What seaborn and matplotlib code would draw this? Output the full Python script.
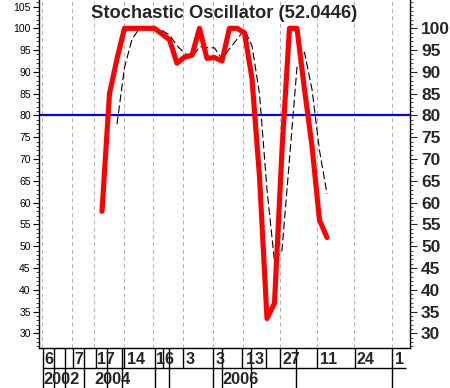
import matplotlib
matplotlib.use('Agg')
import matplotlib.pyplot as plt
import seaborn as sns
import pandas as pd
from matplotlib.ticker import MultipleLocator

# weekly %K (red) and %D (dashed black) values
week = list(range(31))
k_line = [58, 85, 93, 100, 100, 100, 100, 100, 98.7, 97.4, 92, 93.4, 93.8, 100, 93.1, 93.3,
          92.5, 100, 100, 99, 88.5, 66, 33.4, 36.9, 72, 100, 100, 86, 73, 56, 52]
d_week = list(range(2, 31))
d_line = [78, 91, 97.5, 100, 100, 100, 99.5, 98.5, 96, 94.3, 93.3, 95.8, 95.6, 95.5, 93,
          95.3, 97.5, 99.7, 96, 85, 63, 46.5, 49, 70, 91, 94.5, 86, 72, 62]
last_value = 52.0446
level = 80

# x axis: date gridlines and labels (in week units)
grid_pos = [-7.96, -3.96, -1.03, 2.97, 6.84, 10.84, 14.84, 18.84, 23.73, 28.71, 33.64, 38.71]
day_labels = ['6', '7', '17', '14', '16', '3', '3', '13', '27', '11', '24', '1']
year_labels = ['2002', '2004', '2006']
year_pos = [-7.8, -0.95, 16.1]

sns.set_style('white')
plt.rcParams['font.family'] = ['Liberation Sans', 'DejaVu Sans']

fig = plt.figure(figsize=(4.5, 3.88), dpi=100)
ax = fig.add_axes([39 / 450, 40 / 388, 371 / 450, 348 / 388])

xmin, xmax = -8.4, 41.07
ymin, ymax = 26.63, 106.5

for g in grid_pos:
    ax.axvline(g, color='#b4b4b4', lw=0.75, linestyle=(0, (4, 3)), zorder=0)
ax.axhline(level, color='#0000ff', lw=1.6, zorder=1)

df_k = pd.DataFrame({'week': week, 'k': k_line})
df_d = pd.DataFrame({'week': d_week, 'd': d_line})
sns.lineplot(data=df_d, x='week', y='d', color='black', lw=0.8,
             linestyle=(0, (7, 3)), ax=ax, zorder=2)
sns.lineplot(data=df_k, x='week', y='k', color='#ff0000', lw=3.7,
             ax=ax, zorder=3)

ax.set_xlim(xmin, xmax)
ax.set_ylim(ymin, ymax)
ax.set_xlabel('')
ax.set_ylabel('')
ax.set_xticks([])
ax.spines['top'].set_visible(False)
for s in ['left', 'right', 'bottom']:
    ax.spines[s].set_color('black')
    ax.spines[s].set_linewidth(1)

ax.set_yticks(range(30, 106, 5))
ax.yaxis.set_minor_locator(MultipleLocator(1))
ax.tick_params(axis='y', which='major', left=True, length=4, width=0.8,
               labelsize=7.5, pad=2, colors='black')
ax.tick_params(axis='y', which='minor', left=True, length=2, width=0.6)

axr = ax.twinx()
axr.set_ylim(ymin, ymax)
axr.set_yticks(range(30, 101, 5))
axr.yaxis.set_minor_locator(MultipleLocator(1))
axr.tick_params(axis='y', which='major', right=True, length=5, width=0.8,
                labelsize=12.5, pad=3)
axr.tick_params(axis='y', which='minor', right=True, length=2.5, width=0.6)
for lab in axr.get_yticklabels():
    lab.set_fontweight('bold')
for s in axr.spines.values():
    s.set_visible(False)

ax.text(0.5, 0.947, f'Stochastic Oscillator ({last_value})', transform=ax.transAxes,
        ha='center', va='baseline', fontsize=13.2, fontweight='bold')

# date table under the plot
axb = fig.add_axes([39 / 450, 0, 371 / 450, 40 / 388])
axb.set_xlim(xmin, xmax)
axb.set_ylim(0, 2)
axb.axis('off')
axb.hlines(1, -7.93, 40.6, color='black', lw=1)
row1_lines = [-3.9, -0.8, 2.9, 8.1, 10.8, 18.7, 21.9, 23.7, 28.7, 33.7]
both_lines = [-7.93, -6.4, -4.9, -2.4, 0.7, 2.7, 7.1, 9.0, 14.8, 16.0, 19.9, 25.9, 38.7]
axb.vlines(row1_lines, 1, 2, color='black', lw=1)
axb.vlines(both_lines, 0, 2, color='black', lw=1)
for g, lab in zip(grid_pos, day_labels):
    axb.text(g + 0.3, 1.45, lab, ha='left', va='center', fontsize=11.5, fontweight='bold')
for p, lab in zip(year_pos, year_labels):
    axb.text(p, 0.42, lab, ha='left', va='center', fontsize=11.8, fontweight='bold')

fig.savefig('out.png', dpi=100)
